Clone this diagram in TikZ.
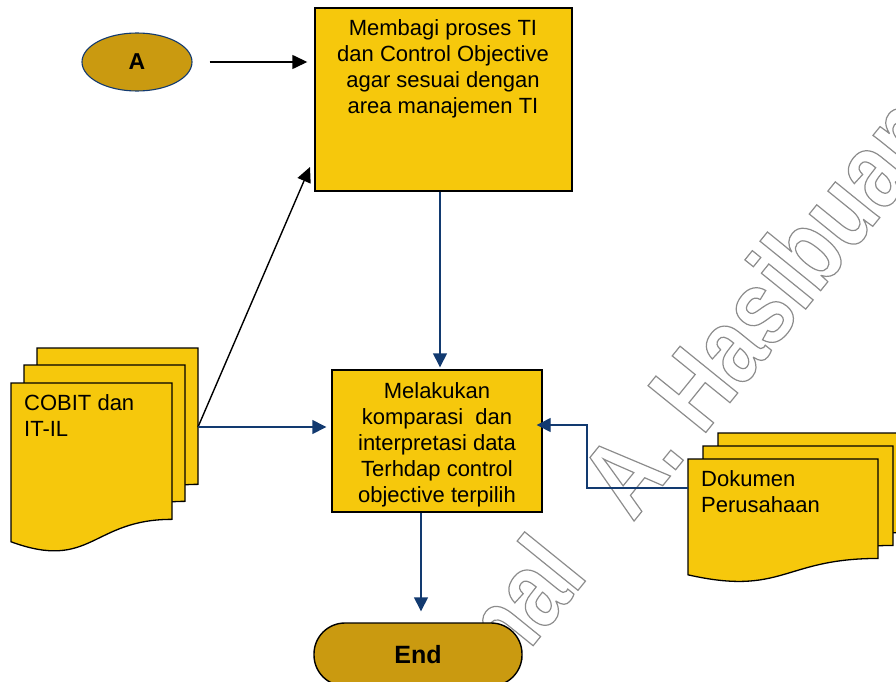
\documentclass[tikz,border=0pt]{standalone}
\usepackage{fontspec}
\setmainfont{Liberation Sans}
\newfontfamily\wmfont[FakeStretch=0.8]{Liberation Sans}
\usetikzlibrary{arrows.meta,shapes.geometric}
\definecolor{boxyellow}{RGB}{246,200,12}
\definecolor{termgold}{RGB}{202,154,16}
\definecolor{linkblue}{RGB}{18,58,112}
\definecolor{wmgray}{RGB}{140,140,140}
\newcommand{\docsheet}[3]{%
  \begin{scope}[shift={#1}]
    \filldraw[docpage] (0,0) -- (#2,0) -- (#2,{0.802*#3})
      .. controls ({0.5*#2},{0.802*#3}) and ({0.5*#2},{1.1075*#3}) .. (0,{0.934*#3}) -- cycle;
  \end{scope}}
\begin{document}
\begin{tikzpicture}[x=1pt,y=-1pt,
  procbox/.style={draw=black,line width=1.4pt,fill=boxyellow,rectangle,inner sep=0pt},
  proctext/.style={font=\fontsize{22}{26}\selectfont,align=center,inner sep=0pt},
  doctext/.style={font=\fontsize{22}{26}\selectfont,align=left,inner sep=0pt,anchor=north west},
  docpage/.style={draw=black,line width=1.3pt,fill=boxyellow},
  blueflow/.style={draw=linkblue,line width=1.4pt,-{Triangle[length=14pt,width=14pt]}},
  blackflow/.style={draw=black,line width=1.4pt,-{Triangle[length=15pt,width=14pt]}},
  ]
\useasboundingbox (0,0) rectangle (896,682);
% watermark
\begin{scope}
\node[rotate=51,anchor=base west,font=\wmfont\bfseries\fontsize{108}{108}\selectfont,text=wmgray,inner sep=0pt] (wm) at (426,778)
  {\special{pdf:literal direct 1 Tr 1.2 w}Jurnal\hspace{45pt} A. Hasibuan\special{pdf:literal direct 0 Tr}};
\end{scope}
% start terminal
\node[ellipse,draw=linkblue,line width=1.1pt,fill=termgold,minimum width=110pt,minimum height=58pt,
  font=\fontsize{23}{23}\selectfont\bfseries,inner sep=0pt] (A) at (137,62) {A};
% process boxes
\node[procbox,minimum width=257pt,minimum height=183pt] (box1) at (443.5,99.5) {};
\node[proctext] (box1txt) at (443,69) {Membagi proses TI\\dan Control Objective\\agar sesuai dengan\\area manajemen TI};
\node[procbox,minimum width=210pt,minimum height=142pt] (box2) at (437,441) {};
\node[proctext] (box2txt) at (437,445) {Melakukan\\komparasi\ \ dan\\interpretasi data\\Terhdap control\\objective terpilih};
% end terminal
\node[draw=black,line width=1.4pt,fill=termgold,rectangle,rounded corners=31pt,minimum width=208pt,minimum height=63pt,
  font=\fontsize{25}{25}\selectfont\bfseries,inner sep=0pt] (End) at (418,654.5) {End};
% COBIT document stack
\docsheet{(37,348)}{161}{170}
\docsheet{(24,365)}{161}{170}
\docsheet{(11,383)}{161}{170}
\node[doctext] (cobittxt) at (24,394) {COBIT dan\\IT-IL};
% Dokumen stack
\docsheet{(718,433)}{190}{124}
\docsheet{(703,446)}{190}{124}
\docsheet{(688,459)}{190}{124}
\node[doctext] (doktxt) at (701,470) {Dokumen\\Perusahaan};
% connector anchors
\coordinate (cobit) at (198,427);
\coordinate (dok) at (688,488);
\coordinate (t1) at (310,167);
\coordinate (d1) at (440,0);
\coordinate (d2) at (421,0);
\coordinate (bend) at (587,0);
% connectors
\draw[blackflow,shorten <=17pt,shorten >=7pt] (A.east) -- (A.east -| box1.west);
\draw[blackflow] (cobit) -- (t1);
\draw[blueflow,shorten >=5pt] (cobit) -- (cobit -| box2.west);
\draw[blueflow,shorten >=2pt] (box1.south -| d1) -- (box2.north -| d1);
\draw[blueflow,shorten >=11pt] (box2.south -| d2) -- (End.north -| d2);
\draw[blueflow,shorten >=-6pt] (dok) -- (dok -| bend) -- (bend |- 0,425) -- (box2.east |- 0,425);
\end{tikzpicture}
\end{document}
